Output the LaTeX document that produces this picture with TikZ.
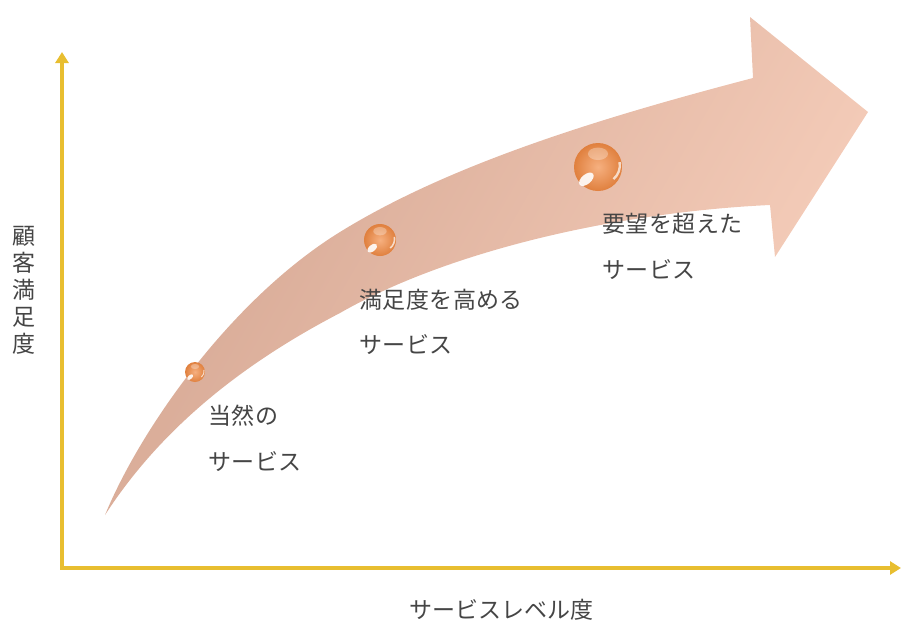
\documentclass[tikz,border=0pt]{standalone}
\usepackage{fontspec}
\newfontfamily\jp[LetterSpace=2]{Noto Sans CJK JP}
\newfontfamily\jpx{Noto Sans CJK JP}
\usetikzlibrary{arrows.meta}
\definecolor{axisgold}{HTML}{E8BE30}
\definecolor{arrowL}{HTML}{D4A692}
\definecolor{arrowR}{HTML}{F7CFBC}
\definecolor{txt}{HTML}{454545}
\definecolor{ballin}{HTML}{F6B080}
\definecolor{ballout}{HTML}{E0803E}
\tikzset{
  axisline/.style={draw=axisgold, line width=3.5pt, -{Triangle[length=11pt,width=13pt]}},
  lbl/.style={font=\jp\fontsize{23}{46}\selectfont, text=txt, align=left, anchor=west, inner sep=0pt},
  ballnode/.style={circle, inner sep=0pt, draw=none},
}
\newcommand\orangeball[3]{%
  \node[ballnode, minimum size=#3*2pt] (#1) at (#2) {};
  \begin{scope}[shift={(#1.center)}, scale=#3]
    \shade[inner color=ballin, outer color=ballout] (0,0) circle (1);
    \fill[white, opacity=0.3] (0.0,-0.55) ellipse (0.42 and 0.26);
    \fill[white, opacity=0.9, rotate=40] (-0.7,0.08) ellipse (0.36 and 0.2);
    \draw[white, opacity=0.7, line width=0.1pt*#3] (0.9,-0.2) arc (-10:50:0.75);
  \end{scope}}
\begin{document}
\begin{tikzpicture}[x=1pt,y=-1pt]
\useasboundingbox (0,0) rectangle (902,624);
% big curved arrow
\shade[left color=arrowL, right color=arrowR, shading angle=60]
  (105,515) .. controls (140,430) and (230,300) .. (340,232)
  .. controls (450,164) and (600,118) .. (753,78)
  -- (750,17) -- (868,112) -- (775,257) -- (770,205)
  .. controls (620,212) and (450,250) .. (340,313)
  .. controls (240,365) and (160,430) .. (105,515) -- cycle;
% axes
\coordinate (o) at (62,568);
\coordinate (ytop) at (62,52);
\coordinate (xend) at (901,568);
\draw[axisline] (o) -- (ytop);
\draw[axisline] ([xshift=-1.75pt]o) -- (xend);
% balls
\orangeball{b1}{195,372}{10}
\orangeball{b2}{380,240}{16}
\orangeball{b3}{598,167}{24}
% labels
\node[lbl] (t1) at (208,416) {当然の};
\node[lbl] (t1b) at (208,462) {サービス};
\node[lbl] (t2) at (359,300) {満足度を高める};
\node[lbl] (t2b) at (359,345) {サービス};
\node[lbl] (t3) at (602,224) {要望を超えた};
\node[lbl] (t3b) at (602,270) {サービス};
\node[font=\jpx\fontsize{23}{27}\selectfont, text=txt, align=center, inner sep=0pt] (ylab) at (24,290) {顧\\客\\満\\足\\度};
\node[font=\jpx\fontsize{23}{27}\selectfont, text=txt, inner sep=0pt] (xlab) at (501,610) {サービスレベル度};
\end{tikzpicture}
\end{document}
